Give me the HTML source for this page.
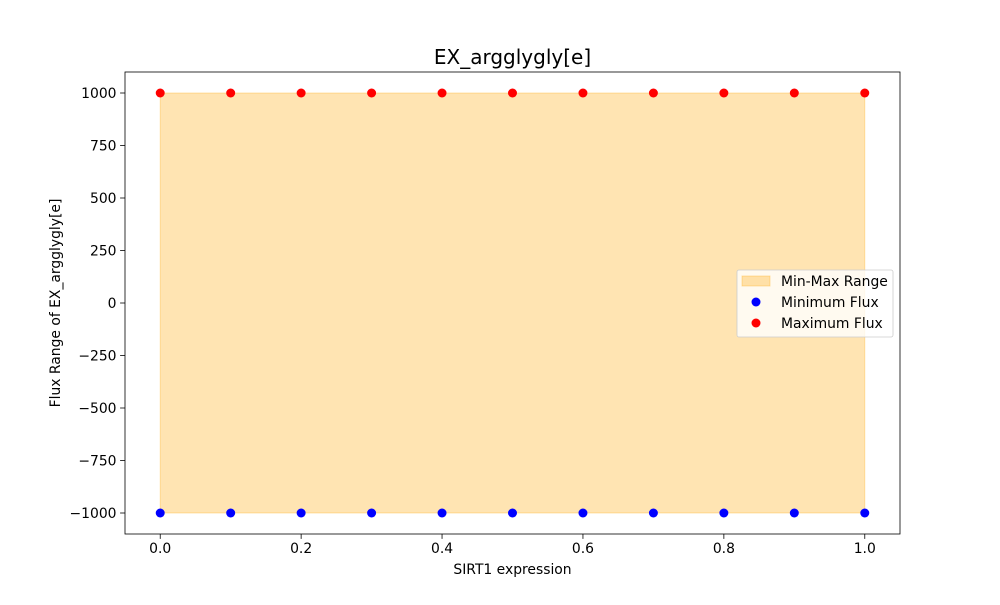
<!DOCTYPE html>
<html><head><meta charset="utf-8"><style>
body{margin:0;background:#fff;}
svg text{font-family:"DejaVu Sans","Liberation Sans",sans-serif;}
</style></head><body>
<svg id="chart" width="1000" height="600" xmlns="http://www.w3.org/2000/svg">
<rect width="1000" height="600" fill="#fff"/>
<g id="plot"></g>
</svg>
<script>
const xValues=[0,0.1,0.2,0.3,0.4,0.5,0.6,0.7,0.8,0.9,1.0];
const minFlux=[-1000,-1000,-1000,-1000,-1000,-1000,-1000,-1000,-1000,-1000,-1000];
const maxFlux=[1000,1000,1000,1000,1000,1000,1000,1000,1000,1000,1000];
const xTicks=[0,0.2,0.4,0.6,0.8,1.0];
const xTickLabels=["0.0","0.2","0.4","0.6","0.8","1.0"];
const yTicks=[1000,750,500,250,0,-250,-500,-750,-1000];
const yTickLabels=["1000","750","500","250","0","\u2212250","\u2212500","\u2212750","\u22121000"];

const L=125,R=900,T=72,B=534;
const xmin=-0.05,xmax=1.05,ymin=-1100,ymax=1100;
const sx=v=>L+(v-xmin)/(xmax-xmin)*(R-L);
const sy=v=>B-(v-ymin)/(ymax-ymin)*(B-T);
const NS="http://www.w3.org/2000/svg";
const g=document.getElementById('plot');
function mk(tag,attrs,parent){const e=document.createElementNS(NS,tag);for(const k in attrs)e.setAttribute(k,attrs[k]);(parent||g).appendChild(e);return e;}

let pts=xValues.map((x,i)=>sx(x)+','+sy(maxFlux[i]));
for(let i=xValues.length-1;i>=0;i--)pts.push(sx(xValues[i])+','+sy(minFlux[i]));
const area=mk('polygon',{points:pts.join(' '),fill:'#ffa500','fill-opacity':0.3,stroke:'#ffa500','stroke-opacity':0.3});



xValues.forEach((x,i)=>{
  const a=mk('circle',{cx:sx(x),cy:sy(minFlux[i]),r:4.5,fill:'#0000ff'});
  
  
  const b=mk('circle',{cx:sx(x),cy:sy(maxFlux[i]),r:4.5,fill:'#ff0000'});
  
  
});

const frame=mk('rect',{x:L,y:T,width:R-L,height:B-T,fill:'none',stroke:'#000','stroke-width':0.8});



xTicks.forEach((t,i)=>{
  mk('line',{x1:sx(t),x2:sx(t),y1:B,y2:B+4.9,stroke:'#000','stroke-width':0.8});
  const tx=mk('text',{x:sx(t),y:B+19,'font-size':13.9,'text-anchor':'middle',fill:'#000'});
  tx.textContent=xTickLabels[i];
  
  
});
yTicks.forEach((t,i)=>{
  mk('line',{x1:L-4.9,x2:L,y1:sy(t),y2:sy(t),stroke:'#000','stroke-width':0.8});
  const tx=mk('text',{x:L-8.5,y:sy(t)+5,'font-size':13.9,'text-anchor':'end',fill:'#000'});
  tx.textContent=yTickLabels[i];
  
  
});

const title=mk('text',{x:(L+R)/2,y:64,'font-size':20,'text-anchor':'middle',fill:'#000'});
title.textContent='EX_argglygly[e]';


const xl=mk('text',{x:(L+R)/2,y:574,'font-size':13.9,'text-anchor':'middle',fill:'#000'});
xl.textContent='SIRT1 expression';


const yl=mk('text',{x:0,y:0,'font-size':13.9,'text-anchor':'middle',fill:'#000',transform:'translate(60,303) rotate(-90)'});
yl.textContent='Flux Range of EX_argglygly[e]';



const lg=mk('g',{});


mk('rect',{x:737,y:270,width:156,height:67,rx:2,fill:'#fff','fill-opacity':0.8,stroke:'#ccc','stroke-width':0.8},lg);
mk('rect',{x:742,y:276,width:28,height:10,fill:'#ffa500','fill-opacity':0.3,stroke:'#ffa500','stroke-opacity':0.3},lg);
mk('circle',{cx:756,cy:302,r:4.5,fill:'#0000ff'},lg);
mk('circle',{cx:756,cy:323,r:4.5,fill:'#ff0000'},lg);
[['Min-Max Range',286],['Minimum Flux',307],['Maximum Flux',328]].forEach(([s,y])=>{
  const t=mk('text',{x:781,y:y,'font-size':13.9,fill:'#000'},lg);
  t.textContent=s;
  
  
});
</script>
</body></html>
